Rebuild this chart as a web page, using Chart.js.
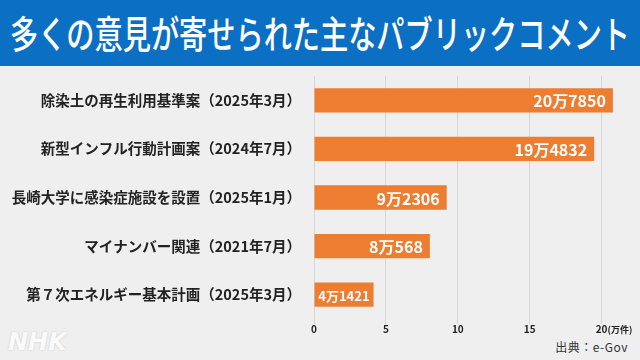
<!DOCTYPE html>
<html lang="ja">
<head>
<meta charset="utf-8">
<script src="https://cdn.jsdelivr.net/npm/chart.js@4"></script>
<style>
  html, body { margin: 0; padding: 0; }
  body {
    width: 640px; height: 360px; overflow: hidden; position: relative;
    background: #efefef;
    font-family: "Noto Sans CJK JP", "Noto Sans", sans-serif;
  }
  .header {
    position: absolute; left: 0; top: 0; width: 640px; height: 66px;
    background: #0b6fc4; z-index: 2;
  }
  .header h1 {
    position: absolute; left: 10px; top: 7px; margin: 0;
    display: inline-block;
    font-size: 38px; font-weight: 500; line-height: 50px; color: #fff;
    white-space: nowrap;
    transform-origin: left top;
  }
  #wrap { position: absolute; left: 0; top: 50px; width: 640px; height: 310px; z-index: 1; }
  #wrap canvas { display: block; }
  .source {
    position: absolute; right: 12px; top: 338px;
    font-size: 12px; color: #333; letter-spacing: 0.5px;
  }
  .logo {
    position: absolute; left: 8px; top: 328px;
    font-family: "DejaVu Sans", sans-serif;
    font-size: 24px; font-weight: bold; font-style: italic; color: #fafafa;
    text-shadow: 0 0 2px rgba(0,0,0,0.18);
  }
</style>
</head>
<body>
<div class="header"><h1 id="title">多くの意見が寄せられた主なパブリックコメント</h1></div>
<div id="wrap"><canvas id="chart" width="640" height="310"></canvas></div>
<div class="logo">NHK</div>
<div class="source">出典：e-Gov</div>

<script>
// Data
const categories = [
    '除染土の再生利用基準案（2025年3月）',
    '新型インフル行動計画案（2024年7月）',
    '長崎大学に感染症施設を設置（2025年1月）',
    'マイナンバー関連（2021年7月）',
    '第７次エネルギー基本計画（2025年3月）'
];
const commentCounts = [207850, 194832, 92306, 80568, 41421];
const tickValues = [0, 5, 10, 15, 20];
const unitLabel = '(万件)';

const barColor = '#ed7d31';

// Squeeze the title to the header width
const title = document.getElementById('title');
title.style.transform = 'scaleX(' + (620 / title.scrollWidth) + ')';

// "20万7850" style label
function formatCount(n) {
    const man = Math.floor(n / 10000);
    const rest = n % 10000;
    return man + '万' + rest;
}

// Value labels inside the bars + unit after last tick
const barLabels = {
    id: 'barLabels',
    afterDatasetsDraw(chart) {
        const ctx = chart.ctx;
        const meta = chart.getDatasetMeta(0);
        ctx.save();
        ctx.fillStyle = '#fff';
        ctx.textAlign = 'right';
        ctx.textBaseline = 'middle';
        meta.data.forEach((bar, i) => {
            const w = bar.x - bar.base;
            const small = w < 90;
            ctx.font = 'bold ' + (small ? 13 : 16) + 'px "Noto Sans CJK JP", sans-serif';
            ctx.fillText(formatCount(commentCounts[i]), bar.x - (small ? 4 : 7), bar.y + 1);
        });
        // unit next to the last tick
        const xScale = chart.scales.x;
        const last = tickValues[tickValues.length - 1];
        const px = xScale.getPixelForValue(last);
        ctx.fillStyle = '#222';
        ctx.textAlign = 'left';
        ctx.textBaseline = 'top';
        ctx.font = 'bold 9px "Noto Sans CJK JP", sans-serif';
        ctx.fillText(unitLabel, px + 6, xScale.top + 6);
        ctx.restore();
    }
};

const ctx = document.getElementById('chart').getContext('2d');
new Chart(ctx, {
    type: 'bar',
    data: {
        labels: categories,
        datasets: [{
            data: commentCounts.map(n => n / 10000),
            backgroundColor: barColor,
            borderWidth: 0,
            categoryPercentage: 1,
            barPercentage: 0.5
        }]
    },
    options: {
        indexAxis: 'y',
        responsive: false,
        animation: false,
        events: [],
        layout: { padding: { top: 26, right: 24, bottom: 26, left: 0 } },
        plugins: {
            legend: { display: false },
            tooltip: { enabled: false }
        },
        scales: {
            x: {
                min: 0,
                max: 21,
                afterBuildTicks: (axis) => {
                    axis.ticks = tickValues.map(v => ({ value: v }));
                },
                grid: {
                    color: '#d6d6d6',
                    lineWidth: 1,
                    drawTicks: true,
                    tickLength: 5
                },
                border: { display: false },
                ticks: {
                    color: '#222',
                    padding: -1,
                    maxRotation: 0,
                    font: { size: 10, weight: 'bold', family: '"Noto Sans CJK JP", sans-serif' }
                }
            },
            y: {
                afterFit: (scale) => { scale.width = 314; },
                grid: { display: false },
                border: { display: false },
                ticks: {
                    color: '#222',
                    padding: 5,
                    font: { size: 14.5, weight: 'bold', family: '"Noto Sans CJK JP", sans-serif' }
                }
            }
        }
    },
    plugins: [barLabels]
});
</script>
</body>
</html>
